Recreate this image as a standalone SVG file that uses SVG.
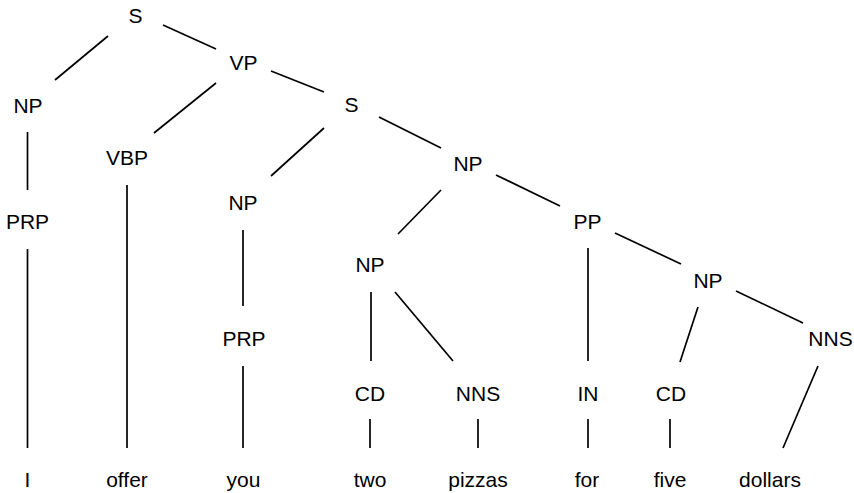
<svg xmlns="http://www.w3.org/2000/svg" width="854" height="493" viewBox="0 0 854 493">
<style>
text{font-family:"Liberation Sans",Arial,sans-serif;font-size:21px;fill:#000;text-anchor:middle}
line{stroke:#000;stroke-width:1.7;stroke-linecap:butt}
</style>
<rect width="854" height="493" fill="#fff"/>
<g id="connectors">
<line x1="108" y1="36" x2="55" y2="80"/>
<line x1="163" y1="25" x2="216" y2="49"/>
<line x1="27.5" y1="132" x2="27.5" y2="190"/>
<line x1="27.5" y1="249" x2="27.5" y2="448"/>
<line x1="216" y1="83" x2="154" y2="133"/>
<line x1="271" y1="71" x2="324" y2="92"/>
<line x1="127" y1="185" x2="127" y2="448"/>
<line x1="324" y1="128" x2="271" y2="176"/>
<line x1="379" y1="117" x2="441" y2="148"/>
<line x1="243" y1="230" x2="243" y2="306"/>
<line x1="243" y1="366" x2="243" y2="448"/>
<line x1="441" y1="190" x2="398" y2="234"/>
<line x1="496" y1="175" x2="560" y2="206"/>
<line x1="371" y1="292" x2="371" y2="361"/>
<line x1="395" y1="292" x2="453" y2="361"/>
<line x1="588" y1="248" x2="588" y2="361"/>
<line x1="615" y1="233" x2="681" y2="264"/>
<line x1="698" y1="307" x2="680" y2="362"/>
<line x1="736" y1="291" x2="803" y2="323"/>
<line x1="370" y1="419" x2="370" y2="448"/>
<line x1="478" y1="419" x2="478" y2="448"/>
<line x1="588" y1="419" x2="588" y2="448"/>
<line x1="670" y1="419" x2="670" y2="448"/>
<line x1="818" y1="366" x2="783" y2="448"/>
</g>
<g id="n-S"><text x="135.5" y="23">S</text></g>
<g id="n-VP"><text x="243.5" y="70">VP</text></g>
<g id="n-NP1"><text x="28" y="113">NP</text></g>
<g id="n-VBP"><text x="127" y="165">VBP</text></g>
<g id="n-S2"><text x="351.5" y="112">S</text></g>
<g id="n-PRP1"><text x="27.5" y="229">PRP</text></g>
<g id="n-NP2"><text x="243" y="210">NP</text></g>
<g id="n-NP3"><text x="468" y="171">NP</text></g>
<g id="n-PRP2"><text x="244" y="346">PRP</text></g>
<g id="n-NP4"><text x="370" y="272">NP</text></g>
<g id="n-PP"><text x="587.5" y="229">PP</text></g>
<g id="n-NP5"><text x="708" y="288">NP</text></g>
<g id="n-NNS2"><text x="830.5" y="346">NNS</text></g>
<g id="n-CD1"><text x="370" y="401">CD</text></g>
<g id="n-NNS1"><text x="478" y="401">NNS</text></g>
<g id="n-IN"><text x="588" y="401">IN</text></g>
<g id="n-CD2"><text x="671" y="401">CD</text></g>
<g id="w-I"><text x="27.5" y="487">I</text></g>
<g id="w-offer"><text x="127" y="487">offer</text></g>
<g id="w-you"><text x="243.5" y="487">you</text></g>
<g id="w-two"><text x="370" y="487">two</text></g>
<g id="w-pizzas"><text x="478" y="487">pizzas</text></g>
<g id="w-for"><text x="587" y="487">for</text></g>
<g id="w-five"><text x="670" y="487">five</text></g>
<g id="w-dollars"><text x="770" y="487">dollars</text></g>
</svg>
